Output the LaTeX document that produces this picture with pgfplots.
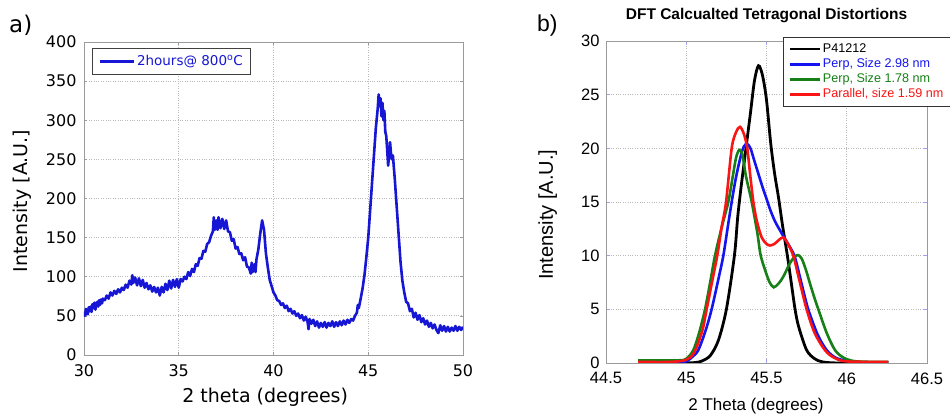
\documentclass[border=0pt]{standalone}
\usepackage{fontspec}
\setmainfont{Liberation Sans}
\newfontfamily\lucida{DejaVu Sans}
\usepackage{pgfplots}
\pgfplotsset{compat=1.18}
\definecolor{lblue}{RGB}{22,22,212}
\definecolor{cblue}{RGB}{20,20,240}
\definecolor{cgreen}{RGB}{22,128,22}
\definecolor{cred}{RGB}{250,20,20}
\definecolor{cblack}{RGB}{0,0,0}
\definecolor{frame}{RGB}{155,155,155}
\definecolor{gridc}{RGB}{185,185,185}
\definecolor{tickb}{RGB}{160,160,245}

\pgfplotstableread{
x y
30.0 55
30.05 50
30.1 59
30.15 54
30.2 52
30.25 61
30.3 56
30.35 62
30.4 55
30.45 65
30.5 60
30.55 67
30.6 58
30.65 64
30.7 68
30.75 62
30.8 70
30.85 64
30.9 71
30.95 66
31.0 72
31.1 70
31.2 76
31.3 72
31.4 80
31.5 76
31.6 82
31.7 78
31.8 84
31.9 80
32.0 86
32.1 83
32.2 90
32.3 86
32.4 95
32.5 90
32.55 102
32.6 92
32.7 99
32.8 89
32.9 98
33.0 88
33.1 96
33.2 86
33.3 92
33.4 84
33.5 89
33.6 81
33.7 87
33.8 80
33.9 86
34.0 76
34.1 87
34.2 80
34.3 91
34.4 83
34.5 95
34.6 85
34.7 96
34.8 87
34.9 97
35.0 86
35.1 97
35.2 94
35.3 100
35.4 97
35.5 106
35.6 101
35.7 110
35.8 106
35.9 116
36.0 114
36.1 124
36.2 123
36.3 133
36.4 132
36.5 142
36.6 144
36.7 152
36.8 158
36.85 176
36.9 160
37.0 172
37.05 160
37.1 176
37.2 162
37.3 174
37.4 161
37.5 172
37.6 158
37.7 157
37.8 146
37.9 148
38.0 136
38.1 138
38.2 129
38.3 130
38.4 121
38.5 125
38.6 113
38.7 112
38.8 104
38.85 118
38.9 106
39.0 116
39.05 106
39.1 122
39.2 135
39.3 155
39.4 172
39.5 160
39.6 130
39.7 112
39.8 96
39.9 88
40.0 80
40.1 76
40.2 70
40.3 69
40.4 64
40.5 66
40.6 60
40.7 63
40.8 56
40.9 59
41.0 53
41.1 56
41.2 50
41.3 53
41.4 47
41.5 51
41.6 44
41.7 49
41.8 42
41.85 33
41.9 46
42.0 40
42.1 45
42.2 37
42.3 43
42.4 35
42.5 41
42.6 36
42.7 42
42.8 35
42.9 41
43.0 37
43.1 43
43.2 36
43.3 42
43.4 37
43.5 43
43.6 38
43.7 44
43.8 39
43.9 45
44.0 41
44.1 46
44.2 44
44.3 50
44.4 54
44.45 64
44.5 60
44.6 72
44.7 85
44.8 102
44.9 125
45.0 150
45.1 185
45.2 220
45.3 255
45.4 290
45.5 315
45.55 333
45.6 318
45.65 328
45.7 305
45.75 322
45.8 300
45.85 312
45.9 285
45.95 280
46.0 262
46.05 242
46.1 255
46.15 272
46.2 258
46.25 250
46.3 255
46.35 240
46.4 225
46.5 190
46.6 155
46.7 120
46.8 95
46.9 80
47.0 68
47.1 66
47.2 56
47.3 59
47.4 48
47.5 54
47.6 45
47.7 51
47.8 42
47.9 47
48.0 39
48.1 44
48.2 36
48.3 41
48.4 34
48.5 39
48.6 32
48.7 28
48.8 38
48.9 31
49.0 37
49.1 30
49.2 36
49.3 30
49.4 35
49.5 31
49.6 37
49.7 31
49.8 36
49.9 32
50.0 36
}\xrd

\pgfplotstableread{
x y
44.70 0
45.00 0.02
45.06 0.05
45.10 0.2
45.15 0.7
45.20 2.1
45.25 5.0
45.30 10.0
45.32 13.5
45.34 16.2
45.372 20.0
45.40 23.3
45.425 26.3
45.45 27.7
45.475 26.8
45.50 24.5
45.526 20.5
45.55 17.7
45.575 15.4
45.60 12.8
45.63 10.0
45.655 7.4
45.678 5.0
45.70 3.4
45.75 1.2
45.80 0.4
45.85 0.1
45.95 0
46.25 0
}\black

\pgfplotstableread{
x y
44.70 0.05
44.95 0.05
45.00 0.15
45.04 0.6
45.075 1.2
45.12 3.0
45.158 5.0
45.20 7.8
45.231 10.0
45.26 12.8
45.283 15.0
45.31 17.3
45.34 19.3
45.36 20.2
45.38 20.4
45.40 20.0
45.425 18.8
45.45 17.6
45.475 16.4
45.50 15.3
45.525 14.2
45.553 13.2
45.59 12.2
45.626 11.3
45.65 10.7
45.678 9.8
45.72 7.3
45.76 5.0
45.82 2.6
45.875 1.2
45.93 0.5
46.00 0.2
46.10 0.05
46.26 0.05
}\blue

\pgfplotstableread{
x y
44.70 0.25
44.95 0.25
45.00 0.4
45.044 1.2
45.08 2.8
45.117 5.0
45.15 7.6
45.179 10.0
45.22 12.6
45.262 15.0
45.29 17.4
45.31 19.1
45.33 19.85
45.35 19.4
45.372 17.4
45.408 15.0
45.443 12.1
45.464 10.0
45.497 8.4
45.52 7.5
45.545 7.05
45.575 7.4
45.605 8.05
45.646 9.3
45.675 9.9
45.698 10.05
45.72 9.7
45.745 8.7
45.771 7.4
45.80 6.0
45.823 5.0
45.875 2.8
45.927 1.2
45.98 0.5
46.06 0.15
46.26 0.1
}\green

\pgfplotstableread{
x y
44.70 0.1
44.90 0.1
45.00 0.3
45.05 1.0
45.10 3.0
45.127 5.0
45.16 7.5
45.193 10.0
45.22 12.6
45.248 15.0
45.283 20.0
45.31 21.5
45.335 22.0
45.36 21.3
45.38 20.0
45.40 17.3
45.418 15.0
45.44 13.2
45.47 11.7
45.50 11.1
45.522 10.95
45.55 11.1
45.58 11.5
45.605 11.7
45.63 11.2
45.667 10.0
45.70 8.0
45.75 5.0
45.80 2.8
45.864 1.2
45.92 0.5
46.00 0.15
46.26 0.1
}\red

\begin{document}
\begin{tikzpicture}
\path[use as bounding box] (0pt,0pt) rectangle (950pt,415pt);

% ---------- panel a ----------
\begin{axis}[
  at={(84pt,60pt)}, anchor=south west,
  width=379pt, height=313pt, scale only axis,
  xmin=30, xmax=50, ymin=0, ymax=400,
  xtick={30,35,...,50}, ytick={0,50,...,400},
  /pgf/number format/assume math mode=true,
  ticklabel style={font=\fontsize{16}{19}\lucida},
  yticklabel style={xshift=-4pt},
  xticklabel style={yshift=-6pt},
  axis line style={frame, line width=0.8pt},
  tick style={frame, line width=0.6pt},
  major tick length=3pt,
  grid=major,
  major grid style={gridc, dotted, line width=0.8pt},
  xlabel={2 theta (degrees)},
  ylabel={Intensity [A.U.]},
  label style={font=\fontsize{19}{22}\lucida},
  xlabel style={at={(axis description cs:0.478,-0.153)}, anchor=base},
  ylabel style={at={(axis description cs:-0.164,0.492)}, anchor=center},
  legend style={at={(axis description cs:0.021,0.981)}, anchor=north west,
    draw=black!75, line width=0.9pt, inner xsep=6pt, inner ysep=5pt,
    font=\fontsize{13.5}{16}\lucida,
    /tikz/every even column/.append style={column sep=2pt}},
  legend image code/.code={\draw[#1, line width=2.6pt] (0pt,0pt) -- (34pt,0pt);},
]
\addplot[lblue, line width=2.6pt, line join=round] table[x=x,y=y] {\xrd};
\addlegendentry{\textcolor{lblue}{2hours@ 800\textsuperscript{o}C}}
\end{axis}

% ---------- panel b ----------
\begin{axis}[
  at={(606pt,52pt)}, anchor=south west,
  width=321pt, height=322pt, scale only axis,
  xmin=44.5, xmax=46.5, ymin=0, ymax=30,
  xtick={44.5,45,45.5,46,46.5}, ytick={0,5,...,30},
  /pgf/number format/assume math mode=true,
  ticklabel style={font=\fontsize{16.5}{19}\selectfont},
  yticklabel style={xshift=-3pt},
  xticklabel style={yshift=-6pt},
  axis line style={frame, line width=0.8pt},
  tick style={tickb, line width=0.8pt},
  major tick length=4pt,
  grid=major,
  major grid style={gridc, dotted, line width=0.8pt},
  title={\bfseries DFT Calcualted Tetragonal Distortions},
  title style={font=\fontsize{15.5}{18}\selectfont, at={(axis description cs:0.5,1.0466)}, anchor=base},
  xlabel={2 Theta (degrees)},
  ylabel={Intensity [A.U.]},
  xlabel style={font=\fontsize{17}{20}\selectfont, at={(axis description cs:0.467,-0.1475)}, anchor=base},
  ylabel style={font=\fontsize{20}{23}\selectfont, at={(axis description cs:-0.182,0.46)}, anchor=center},
  legend style={at={(axis description cs:0.551,1.012)}, anchor=north west,
    draw=black!80, line width=0.9pt, inner xsep=5pt, inner ysep=4pt,
    font=\fontsize{12.6}{15}\selectfont, fill=white,
    nodes={inner ysep=1.2pt, text height=9.5pt, text depth=3.3pt},
    /tikz/every even column/.append style={column sep=1pt}},
  legend image code/.code={\draw[#1, line width=2.6pt] (0pt,0pt) -- (30pt,0pt);},
  legend cell align=left,
]
\addplot[cblack, line width=2.8pt, smooth, tension=0.5] table[x=x,y=y] {\black};
\addlegendentry{\textcolor{cblack}{P41212}}
\addplot[cblue, line width=2.6pt, smooth, tension=0.5] table[x=x,y=y] {\blue};
\addlegendentry{\textcolor{cblue}{Perp, Size 2.98 nm}}
\addplot[cgreen, line width=2.6pt, smooth, tension=0.5] table[x=x,y=y] {\green};
\addlegendentry{\textcolor{cgreen}{Perp, Size 1.78 nm}}
\addplot[cred, line width=2.6pt, smooth, tension=0.5] table[x=x,y=y] {\red};
\addlegendentry{\textcolor{cred}{Parallel, size 1.59 nm}}
\end{axis}

\node[anchor=base west, inner sep=0pt, font=\fontsize{23}{26}\lucida] at (9pt,382pt) {a)};
\node[anchor=base west, inner sep=0pt, font=\fontsize{23}{26}\selectfont] at (537pt,383pt) {b)};
\end{tikzpicture}
\end{document}
